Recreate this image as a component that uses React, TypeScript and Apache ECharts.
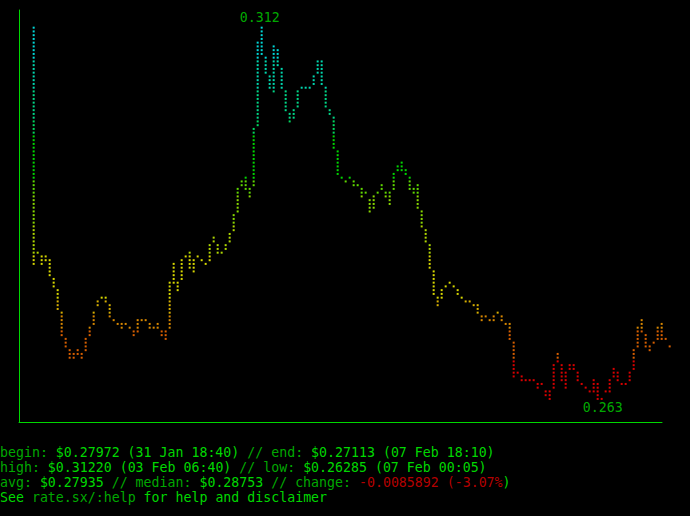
import React, { useEffect, useRef } from "react";
import * as echarts from "echarts";

// Per-column price range of the braille dot plot (top and bottom of each dot column)
const colHigh = [
  0.3122, 0.28229, 0.28179, 0.28179, 0.28129, 0.2788, 0.27731, 0.27432, 0.27083, 0.26933,
  0.26883, 0.26933, 0.26883, 0.27083, 0.27232, 0.27432, 0.27581, 0.27631, 0.27631, 0.27531,
  0.27332, 0.27282, 0.27282, 0.27282, 0.27232, 0.27182, 0.27332, 0.27332, 0.27332, 0.27282,
  0.27232, 0.27282, 0.27182, 0.27182, 0.2783, 0.2808, 0.2783, 0.28129, 0.28179, 0.28229,
  0.28129, 0.28179, 0.28129, 0.2808, 0.28329, 0.28429, 0.28329, 0.28229, 0.28329, 0.28478,
  0.28728, 0.29077, 0.29176, 0.29226, 0.29077, 0.29874, 0.31021, 0.3122, 0.30821, 0.30572,
  0.30971, 0.30921, 0.30672, 0.30373, 0.30074, 0.30123, 0.30373, 0.30422, 0.30422, 0.30422,
  0.30572, 0.30771, 0.30771, 0.30422, 0.30123, 0.30024, 0.29575, 0.29226, 0.29176, 0.29226,
  0.29176, 0.29126, 0.29077, 0.29027, 0.28927, 0.28977, 0.29027, 0.29126, 0.29027, 0.29027,
  0.29276, 0.29376, 0.29426, 0.29326, 0.29226, 0.29077, 0.29126, 0.28777, 0.28528, 0.28329,
  0.2798, 0.27631, 0.27731, 0.27781, 0.2783, 0.27781, 0.27731, 0.27631, 0.27581, 0.27581,
  0.27531, 0.27531, 0.27382, 0.27382, 0.27332, 0.27382, 0.27432, 0.27382, 0.27282, 0.27282,
  0.27033, 0.26634, 0.26584, 0.26534, 0.26534, 0.26534, 0.26484, 0.26484, 0.26385, 0.26385,
  0.26734, 0.26883, 0.26734, 0.26634, 0.26734, 0.26734, 0.26634, 0.26484, 0.26435, 0.26385,
  0.26534, 0.26484, 0.26285, 0.26385, 0.26534, 0.26684, 0.26634, 0.26484, 0.26484, 0.26634,
  0.26933, 0.27232, 0.27332, 0.27133, 0.26983, 0.27033, 0.27232, 0.27282, 0.27083, 0.26983,
];
const colLow = [
  0.2808, 0.28229, 0.2808, 0.28129, 0.2793, 0.27781, 0.27481, 0.27133, 0.26983, 0.26833,
  0.26833, 0.26883, 0.26833, 0.26933, 0.27133, 0.27282, 0.27531, 0.27631, 0.27581, 0.27382,
  0.27332, 0.27282, 0.27232, 0.27282, 0.27232, 0.27133, 0.27182, 0.27332, 0.27332, 0.27232,
  0.27232, 0.27232, 0.27133, 0.27083, 0.27232, 0.2783, 0.27731, 0.2788, 0.28179, 0.2803,
  0.2798, 0.28179, 0.28129, 0.2808, 0.28129, 0.28379, 0.28229, 0.28229, 0.28279, 0.28379,
  0.28528, 0.28777, 0.29126, 0.29077, 0.28977, 0.29126, 0.29924, 0.30871, 0.30622, 0.30422,
  0.30373, 0.30722, 0.30422, 0.30123, 0.29974, 0.30024, 0.30173, 0.30422, 0.30422, 0.30422,
  0.30472, 0.30622, 0.30472, 0.30173, 0.30074, 0.29625, 0.29276, 0.29226, 0.29176, 0.29226,
  0.29126, 0.29126, 0.28977, 0.29027, 0.28777, 0.28827, 0.29027, 0.29077, 0.28977, 0.28877,
  0.29077, 0.29326, 0.29326, 0.29276, 0.29077, 0.29027, 0.28827, 0.28578, 0.28379, 0.2803,
  0.27681, 0.27531, 0.27631, 0.27781, 0.2783, 0.27781, 0.27681, 0.27631, 0.27581, 0.27581,
  0.27531, 0.27432, 0.27332, 0.27382, 0.27332, 0.27332, 0.27432, 0.27332, 0.27282, 0.27083,
  0.26584, 0.26634, 0.26534, 0.26534, 0.26534, 0.26534, 0.26435, 0.26484, 0.26335, 0.26285,
  0.26435, 0.26784, 0.26534, 0.26435, 0.26684, 0.26684, 0.26534, 0.26484, 0.26435, 0.26385,
  0.26385, 0.26285, 0.26285, 0.26385, 0.26385, 0.26584, 0.26534, 0.26484, 0.26484, 0.26534,
  0.26684, 0.26983, 0.27182, 0.26983, 0.26933, 0.27033, 0.27083, 0.27083, 0.27083, 0.26983,
];

// Colour of each text row of the plot, top to bottom
const bandColors = [
  "#00d7d7", "#00d7d7", "#00d7d7", "#00d7af", "#00d7af", "#00d787", "#00d787", "#00d75f",
  "#00d700", "#00d700", "#00d700", "#5fd700", "#87d700", "#87d700", "#afd700", "#afd700",
  "#d7d700", "#d7d700", "#d7d700", "#d7af00", "#d78700", "#d75f00", "#d75f00", "#d70000",
  "#d70000", "#d70000",
];

// Summary text below the chart: [style, text] segments
const summaryLines: [string, string][][] = [
  [["d", "begin: "], ["b", "$0.27972 (31 Jan 18:40)"], ["d", " // end: "], ["b", "$0.27113 (07 Feb 18:10)"]],
  [["d", "high: "], ["b", "$0.31220 (03 Feb 06:40)"], ["d", " // low: "], ["b", "$0.26285 (07 Feb 00:05)"]],
  [["d", "avg: "], ["b", "$0.27935"], ["d", " // median: "], ["b", "$0.28753"], ["d", " // change: "], ["r", "-0.0085892"], ["d", " "], ["r", "(-3.07%"], ["b", ")"]],
  [["b", "See "], ["d", "rate.sx/:help"], ["b", " for help and disclaimer"]],
];

const FONT = '"DejaVu Sans Mono", "Liberation Mono", monospace';
const FS = 13.25;

export default function App() {
  const ref = useRef<HTMLDivElement>(null);
  useEffect(() => {
    document.body.style.margin = "0";
    document.body.style.background = "#000";
    const chart = echarts.init(ref.current!, null, { renderer: "svg" });
    const maxV = Math.max(...colHigh);
    const minV = Math.min(...colLow);
    const maxIdx = colHigh.lastIndexOf(maxV);
    const minIdx = colLow.lastIndexOf(minV);
    const DOT = 3.75;

    const renderItem = (params: any, api: any) => {
      const i = api.value(0);
      const hi = api.value(1);
      const lo = api.value(2);
      const top = api.coord([i, hi]);
      const bot = api.coord([i, lo]);
      const yRef = api.coord([0, maxV])[1];
      const n = Math.round((bot[1] - top[1]) / DOT);
      const step = n > 0 ? (bot[1] - top[1]) / n : 0;
      const children: any[] = [];
      for (let j = 0; j <= n; j++) {
        const y = top[1] + j * step;
        const row = Math.round((y - yRef) / DOT) + 3;
        const band = Math.max(0, Math.min(bandColors.length - 1, Math.floor(row / 4)));
        children.push({
          type: "rect",
          shape: { x: top[0] - 1, y: y - 1, width: 2, height: 2 },
          style: { fill: bandColors[band] },
        });
      }
      return { type: "group", children };
    };

    const rich: any = {
      d: { fill: "#00a800", fontFamily: FONT, fontSize: FS },
      b: { fill: "#00d700", fontFamily: FONT, fontSize: FS },
      r: { fill: "#b40000", fontFamily: FONT, fontSize: FS },
    };

    const option: any = {
      animation: false,
      backgroundColor: "#000",
      grid: { left: 19, right: 28, top: 10, bottom: 94, containLabel: false },
      xAxis: {
        type: "value",
        min: -3.667,
        max: 157.083,
        axisLine: { show: true, onZero: false, lineStyle: { color: "#00d700", width: 1 } },
        axisTick: { show: false },
        axisLabel: { show: false },
        splitLine: { show: false },
      },
      yAxis: {
        type: "value",
        min: 0.259782,
        max: 0.314549,
        axisLine: { show: true, onZero: false, lineStyle: { color: "#00d700", width: 1 } },
        axisTick: { show: false },
        axisLabel: { show: false },
        splitLine: { show: false },
      },
      series: [
        {
          type: "custom",
          clip: false,
          renderItem,
          encode: { x: 0, y: [1, 2] },
          data: colHigh.map((h, i) => [i, h, colLow[i]]),
        },
        {
          type: "scatter",
          symbolSize: 0,
          clip: false,
          silent: true,
          data: [
            { value: [maxIdx, maxV], label: { position: "top", distance: 3, offset: [-2, 0] } },
            { value: [minIdx, minV], label: { position: "bottom", distance: 2, offset: [1, 0] } },
          ],
          label: {
            show: true,
            color: "#00d700",
            fontFamily: FONT,
            fontSize: FS,
            lineHeight: 14,
            formatter: (p: any) => p.value[1].toFixed(3),
          },
        },
      ],
      graphic: summaryLines.map((segs, li) => ({
        type: "text",
        x: 0,
        y: 452.5 + li * 15,
        style: {
          text: segs.map(([k, t]) => `{${k}|${t}}`).join(""),
          rich,
          font: `${FS}px ${FONT}`,
          verticalAlign: "middle",
          align: "left",
        },
      })),
    };
    chart.setOption(option);
    return () => chart.dispose();
  }, []);
  return (
    <div
      ref={ref}
      style={{ position: "fixed", left: 0, top: 0, width: 690, height: 516, background: "#000" }}
    />
  );
}
